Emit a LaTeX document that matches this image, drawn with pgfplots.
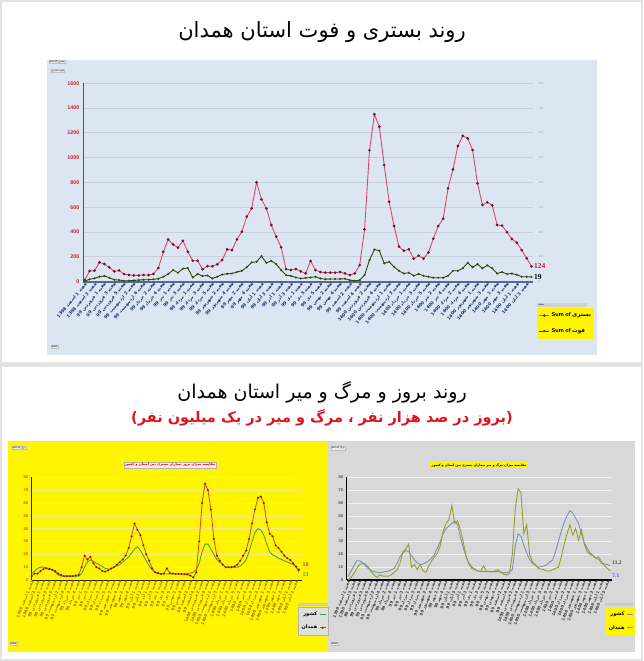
\documentclass[border=0pt]{standalone}
\usepackage{fontspec}
\setmainfont{Liberation Sans}
\newfontfamily\arabicfont[Script=Arabic]{DejaVu Sans}
\newfontfamily\numserif{Liberation Serif}
\usepackage{pgfplots}
\usepackage{pgfplotstable}
\pgfplotsset{compat=1.18}
\TeXXeTstate=1

\newcommand{\ar}[1]{{\arabicfont\beginR #1\endR}}

\newcount\wkidx \wkidx=0
\newcount\wkn
\newcommand\addmonth[3]{%
  \wkn=1
  \loop
    \expandafter\xdef\csname wk\the\wkidx\endcsname{\noexpand\ar{هفته \the\wkn\space #2 #3}}%
    \advance\wkidx by 1
    \advance\wkn by 1
  \ifnum\wkn<\numexpr#1+1\relax
  \repeat}
\addmonth{4}{اسفند}{1398}
\addmonth{5}{فروردین}{99}
\addmonth{4}{اردیبهشت}{99}
\addmonth{5}{خرداد}{99}
\addmonth{4}{تیر}{99}
\addmonth{5}{مرداد}{99}
\addmonth{4}{شهریور}{99}
\addmonth{5}{مهر}{99}
\addmonth{4}{آبان}{99}
\addmonth{4}{آذر}{99}
\addmonth{5}{دی}{99}
\addmonth{4}{بهمن}{99}
\addmonth{4}{اسفند}{99}
\addmonth{5}{فروردین}{1400}
\addmonth{4}{اردیبهشت}{1400}
\addmonth{5}{خرداد}{1400}
\addmonth{4}{تیر}{1400}
\addmonth{5}{مرداد}{1400}
\addmonth{4}{شهریور}{1400}
\addmonth{4}{مهر}{1400}
\addmonth{4}{آبان}{1400}

\definecolor{canvas}{RGB}{226,226,226}
\definecolor{topbg}{RGB}{220,230,242}
\definecolor{gridc}{RGB}{200,208,220}
\definecolor{axisblue}{RGB}{84,104,145}
\definecolor{topred}{RGB}{214,28,48}
\definecolor{navy}{RGB}{28,50,110}
\definecolor{redline}{RGB}{228,70,100}
\definecolor{redmark}{RGB}{110,20,50}
\definecolor{grnline}{RGB}{55,70,10}
\definecolor{grnmark}{RGB}{180,190,20}
\definecolor{yel}{RGB}{255,245,0}
\definecolor{grayp}{RGB}{216,216,216}
\definecolor{labbrown}{RGB}{165,115,0}
\definecolor{hamred}{RGB}{225,70,30}
\definecolor{hammark}{RGB}{140,20,20}
\definecolor{cgreen}{RGB}{70,165,60}
\definecolor{mblue}{RGB}{125,145,185}
\definecolor{molive}{RGB}{150,160,40}
\definecolor{subred}{RGB}{220,20,30}

\pgfplotsset{
  shortleg/.style={legend image code/.code={\draw[mark repeat=2,mark phase=2,##1] plot coordinates {(0pt,0pt) (#1/2,0pt) (#1,0pt)};}},
}

% week, hospitalised (bastari), deaths (fot)
\pgfplotstableread{
i bastari fot
0 13 2.5
1 86 9.5
2 89 13.5
3 156 20
4 142 23
5 116 16
6 83 8
7 91 6.5
8 62 4
9 54 4
10 51 5
11 51 6.5
12 54 8
13 54 8
14 62 9.5
15 110 12
16 240 20
17 340 31
18 300 47
19 274 36
20 330 53
21 242 55
22 169 17
23 169 31
24 100 23
25 126 25
26 124 13
27 140 20
28 175 29
29 261 32
30 255 33
31 341 39
32 403 44
33 524 58
34 591 78
35 801 80
36 664 103
37 591 76
38 457 84
39 363 71
40 277 47
41 102 27
42 94 23
43 102 17
44 83 13
45 67 15
46 167 17
47 94 20
48 78 13
49 73 10
50 73 11
51 73 11
52 78 11
53 67 12
54 54 6
55 67 4
56 134 6
57 422 27
58 1060 87
59 1350 130
60 1250 125
61 941 74
62 645 80
63 449 60
64 283 44
65 250 33
66 262 36
67 186 24
68 210 31
69 186 24
70 235 20
71 347 16
72 449 16
73 508 16
74 753 24
75 906 44
76 1095 44
77 1176 54
78 1156 76
79 1062 58
80 793 71
81 619 54
82 640 66
83 616 54
84 457 33
85 452 39
86 399 31
87 345 33
88 315 28
89 255 20
90 189 20
91 124 19
}\toptab

% week, incidence Hamedan, incidence country, mortality country, mortality Hamedan
\pgfplotstableread{
i incH incC mortC mortH
0 3 5 2.6 0
1 5 7 7 2
2 5 9 11 5
3 7 10 15 9
4 8.5 10 15 12
5 9 9.5 13.5 13
6 8.5 9 11 12.5
7 8 8 9 10
8 7 6 7.5 6.5
9 5 4 6.5 4
10 4 3 6 2
11 3 3 5.7 4
12 3 3 6 3
13 3 3 6.5 3
14 3 3 7 3
15 3.5 3 8 4
16 4 3 9 6
17 10 5 13 8
18 19 10 18 13
19 16 14 21 22
20 18 15.6 23 24
21 13 14.5 22 28
22 10 13 19 10
23 9 12 15.6 12
24 7 10.5 13.5 8
25 6.5 9 12 12
26 7.5 8.5 12.5 7
27 9 8.5 13.5 6
28 10 10 15 11
29 12 11 17 15
30 14 12 20 18
31 16 14 25 21
32 19 16 30 27
33 25 18 36 38
34 34 21 40 44
35 44 24 42 47
36 39 26 44 58
37 35 23 46 44
38 27 19 43 46
39 20 15 33 39
40 15 11 25 29
41 9 8 18 18
42 6 6 13 12
43 5.5 5 10 9
44 4.7 4.7 8.5 8
45 5 4.7 7 7
46 9 4.7 6.5 6.5
47 5.5 4.7 6.5 11
48 5 4.7 6.5 7
49 4.7 4.7 6.5 6.5
50 4.7 4.7 6.5 6.5
51 4.7 4.7 6.5 7
52 4.5 4.7 6.5 8
53 4.2 5 6 6
54 3.5 5.5 5.8 4.5
55 2 6 5.7 4
56 6 8 6.5 5
57 30 13 8 20
58 60 22 26 55
59 75 28 36 71
60 70 28 34 68
61 55 24 27 36
62 32 20 21 43
63 19 16 16 20
64 15 14 13 14
65 12 12 11.5 12
66 10 10 10 9
67 10 10 10.5 8.5
68 10 10 11 8
69 10.5 10 12 7
70 12 10 14 7
71 15 11 15.6 8
72 19 13 22 9
73 23 16 30 10
74 32 22 38 18
75 44 30 45 28
76 55 37 50 36
77 64 40 54 43
78 65 39 52 35
79 60 35 48 40
80 45 28 44 31
81 36 22 36 39
82 34 19.5 29 28
83 27 18.5 25 22
84 25 17 21 20
85 22 16 19 19
86 19 15 17 17
87 17 14 16 18
88 15.6 13 13 14
89 13 12 12.5 11
90 10.4 10 12 9
91 8 6 11 7
}\bottab

\begin{document}
\begin{tikzpicture}[x=1pt,y=1pt]
\useasboundingbox (0,0) rectangle (643,661);
\fill[canvas] (0,0) rectangle (643,661);
% panels
\fill[white] (2,299) rectangle (641,659);
\fill[white] (2,2) rectangle (641,294);
\fill[topbg] (47,306) rectangle (597,601);
\fill[yel] (8,9) rectangle (328,220);
\fill[grayp] (328,9) rectangle (635,220);

% titles
\node[font=\fontsize{21}{25}\selectfont] at (322,629) {\ar{روند بستری و فوت استان همدان}};
\node[font=\fontsize{19}{23}\selectfont] at (322,269) {\ar{روند بروز و مرگ و میر استان همدان}};
\node[font=\fontsize{14.5}{18}\selectfont\bfseries, text=subred] at (322,243) {\ar{(بروز در صد هزار نفر ، مرگ و میر در یک میلیون نفر)}};

% small pivot buttons
\node[anchor=north west, fill=gray!15, draw=gray!50, line width=0.2pt, inner sep=0.5pt, font=\fontsize{2.4}{3}\selectfont] at (49,601) {Sum of \ar{بستری}};
\node[anchor=north west, fill=gray!15, draw=gray!50, line width=0.2pt, inner sep=0.5pt, font=\fontsize{2.4}{3}\selectfont] at (51,592) {\ar{بستری} \ar{فوت}};
\node[anchor=north west, fill=gray!15, draw=gray!50, line width=0.2pt, inner sep=0.5pt, font=\fontsize{2.4}{3}\selectfont] at (51,316) {Week};
\node[anchor=north west, fill=gray!15, draw=gray!50, line width=0.2pt, inner sep=0.5pt, font=\fontsize{2.4}{3}\selectfont] at (12,215) {Sum of \ar{بروز}};
\node[anchor=north west, fill=gray!15, draw=gray!50, line width=0.2pt, inner sep=0.5pt, font=\fontsize{2.4}{3}\selectfont] at (10,19) {Week};
\node[anchor=north west, fill=gray!15, draw=gray!50, line width=0.2pt, inner sep=0.5pt, font=\fontsize{2.4}{3}\selectfont] at (331,215) {Sum of \ar{مرگ}};
\node[anchor=north west, fill=gray!15, draw=gray!50, line width=0.2pt, inner sep=0.5pt, font=\fontsize{2.4}{3}\selectfont] at (331,19) {Week};

% chart titles (bottom)
\node[fill=red!8, draw=gray!60, line width=0.3pt, inner sep=1.2pt, text=red!85!black, font=\fontsize{3.4}{4}\selectfont\bfseries] at (170,196) {\ar{مقایسه میزان بروز بیماران بستری بین استان و کشور}};
\node[fill=yel, inner sep=1.2pt, text=black, font=\fontsize{3.2}{4}\selectfont\bfseries] at (479,196) {\ar{مقایسه میزان مرگ و میر بیماران بستری بین استان و کشور}};

% ---------- top chart: hospitalised ----------
\begin{axis}[
  at={(83pt,379.3pt)}, anchor=south west, scale only axis,
  width=450pt, height=198.4pt,
  xmin=-0.35, xmax=91.3, ymin=0, ymax=1600,
  axis lines*=left,
  x axis line style={-, draw=axisblue, line width=2.2pt},
  y axis line style={-, draw=topred, line width=0.8pt},
  xtick={0,2,...,90},
  xticklabel={\csname wk\number\numexpr2*\ticknum\relax\endcsname},
  x tick label style={rotate=50, anchor=east, font=\fontsize{4.4}{5}\selectfont\bfseries, text=navy, inner sep=0.3pt, yshift=-2pt},
  ytick={0,200,...,1600},
  y tick label style={font=\fontsize{5.4}{6}\selectfont\bfseries, text=topred},
  /pgf/number format/assume math mode=true,
  /pgf/number format/1000 sep={},
  major tick length=0pt,
  ymajorgrids, grid style={draw=gridc, line width=0.9pt},
  clip=false,
]
\addplot[color=redline, line width=0.9pt, mark=*, mark size=0.85pt, mark options={fill=redmark, draw=redmark}] table[x=i, y=bastari]{\toptab};
\node[anchor=west, inner sep=1pt, text=topred, font=\numserif\fontsize{7.5}{8}\selectfont\bfseries] at (axis cs:91.3,124) {124};
\end{axis}

% ---------- top chart: deaths (secondary axis) ----------
\begin{axis}[
  at={(83pt,379.3pt)}, anchor=south west, scale only axis,
  width=450pt, height=198.4pt,
  xmin=-0.35, xmax=91.3, ymin=0, ymax=800,
  hide x axis, axis y line*=right,
  y axis line style={draw=none},
  ytick={0,100,...,800},
  y tick label style={font=\fontsize{2.8}{3}\selectfont, text=gray!70, xshift=2pt},
  /pgf/number format/assume math mode=true,
  major tick length=0pt,
  clip=false,
  shortleg=10pt,
  legend style={at={(1.009,-0.13)}, anchor=north west, fill=yel, draw=none, font=\fontsize{5.6}{6.5}\selectfont\bfseries, inner ysep=3pt, inner xsep=1.5pt, row sep=6pt, legend cell align=left},
]
\addlegendimage{color=redline, line width=0.8pt, mark=*, mark size=0.85pt, mark options={fill=redmark, draw=redmark}}
\addlegendentry{Sum of \ar{بستری}}
\addplot[color=grnline, line width=0.9pt, mark=*, mark size=0.55pt, mark options={fill=grnmark, draw=grnline}] table[x=i, y=fot]{\toptab};
\addlegendentry{Sum of \ar{فوت}}
\node[anchor=west, inner sep=1pt, text=black, font=\numserif\fontsize{7.5}{8}\selectfont\bfseries] at (axis cs:91.3,19) {19};
\end{axis}
\fill[gray!35] (537,354) rectangle (587,358);
\node[anchor=west, font=\fontsize{2}{2.5}\selectfont, inner sep=0.3pt] at (538,356) {Values};

% ---------- bottom left: incidence ----------
\begin{axis}[
  at={(31.7pt,81pt)}, anchor=south west, scale only axis,
  width=270.3pt, height=102.7pt,
  xmin=0, xmax=92, ymin=0, ymax=80,
  axis lines*=left,
  axis line style={-, draw=black!85, line width=0.8pt},
  xtick={0,2,...,90},
  xticklabel={\csname wk\number\numexpr2*\ticknum\relax\endcsname},
  x tick label style={rotate=68, anchor=east, font=\fontsize{4}{4.6}\selectfont\bfseries, text=labbrown, inner sep=0.3pt, yshift=-1pt},
  ytick={0,10,...,80},
  y tick label style={font=\fontsize{4}{4.5}\selectfont\bfseries, text=hamred},
  /pgf/number format/assume math mode=true,
  major tick length=0pt,
  ymajorgrids, grid style={draw={rgb,255:red,240;green,236;blue,140}, line width=0.4pt},
  clip=false,
  shortleg=6pt,
  legend style={at={(0.985,-0.265)}, anchor=north west, fill=gray!25, draw=gray!60, line width=0.3pt, font=\fontsize{5}{6}\selectfont\bfseries, inner ysep=2.5pt, inner xsep=1.5pt, row sep=4pt, legend cell align=right, legend plot pos=right},
]
\addplot[color=cgreen, line width=0.9pt] table[x=i, y=incC]{\bottab};
\addlegendentry{\ar{کشور}}
\addplot[color=hamred, line width=0.8pt, mark=*, mark size=0.55pt, mark options={fill=hammark, draw=hammark}] table[x=i, y=incH]{\bottab};
\addlegendentry{\ar{همدان}}
\node[anchor=west, inner sep=0.5pt, text=hamred, font=\numserif\fontsize{6}{7}\selectfont\bfseries] at (axis cs:92,12) {18};
\node[anchor=west, inner sep=0.5pt, text=cgreen, font=\numserif\fontsize{6}{7}\selectfont\bfseries] at (axis cs:92,4) {13};
\end{axis}

% ---------- bottom right: mortality ----------
\begin{axis}[
  at={(346.7pt,81pt)}, anchor=south west, scale only axis,
  width=265pt, height=102.7pt,
  xmin=-0.5, xmax=91.5, ymin=0, ymax=80,
  axis lines*=left,
  axis line style={-, draw=black, line width=0.6pt},
  x axis line style={line width=1.3pt},
  xtick={0,2,...,90},
  xticklabel={\csname wk\number\numexpr2*\ticknum\relax\endcsname},
  x tick label style={rotate=68, anchor=east, font=\fontsize{4}{4.6}\selectfont\bfseries, text=black!75, inner sep=0.3pt, yshift=-1pt},
  ytick={0,10,...,80},
  y tick label style={font=\fontsize{4}{4.5}\selectfont\bfseries, text=black!70},
  /pgf/number format/assume math mode=true,
  major tick length=0pt,
  ymajorgrids, grid style={draw=gray!12, line width=0.4pt},
  clip=false,
  shortleg=6pt,
  legend style={at={(0.975,-0.265)}, anchor=north west, fill=yel, draw=none, font=\fontsize{5}{6}\selectfont\bfseries, inner ysep=2.5pt, inner xsep=1.5pt, row sep=4pt, legend cell align=right, legend plot pos=right},
]
\addplot[color=mblue, line width=0.9pt] table[x=i, y=mortC]{\bottab};
\addlegendentry{\ar{کشور}}
\addplot[color=molive, line width=0.9pt] table[x=i, y=mortH]{\bottab};
\addlegendentry{\ar{همدان}}
\node[anchor=west, inner sep=0.5pt, text=black!70, font=\numserif\fontsize{5.5}{6}\selectfont\bfseries] at (axis cs:91.5,13.5) {11.2};
\node[anchor=west, inner sep=0.5pt, text=blue!70, font=\numserif\fontsize{5.5}{6}\selectfont\bfseries] at (axis cs:91.5,3.5) {7.1};
\end{axis}
\fill[gray!40] (298,55) rectangle (328,58);
\fill[gray!40] (605,55) rectangle (633,58);
\end{tikzpicture}
\end{document}
